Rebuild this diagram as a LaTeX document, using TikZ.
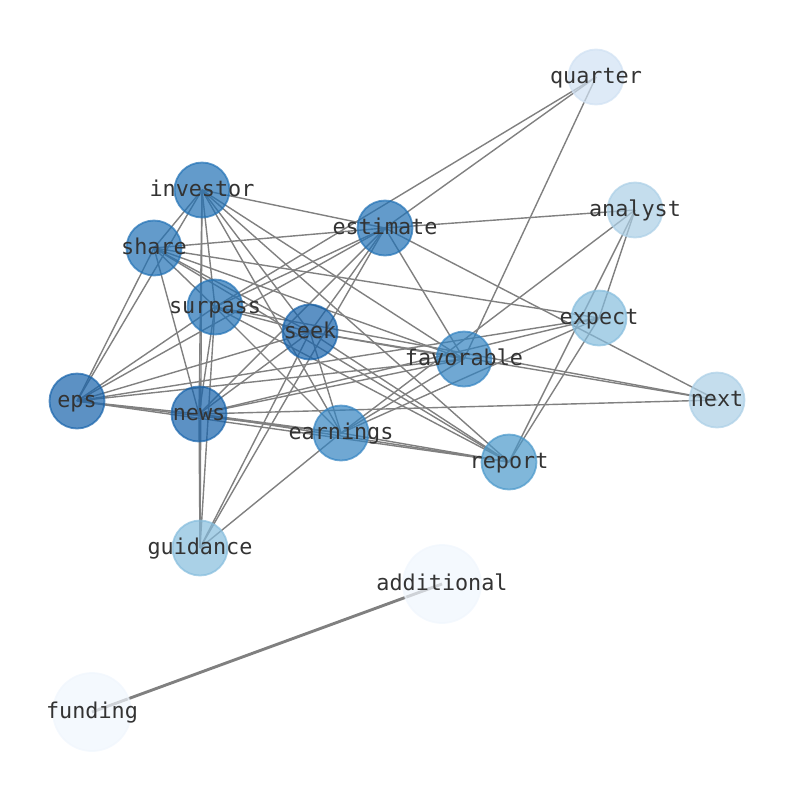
\documentclass[tikz,border=0pt]{standalone}
\usepackage{fontspec}
\setmonofont{DejaVu Sans Mono}
\pgfdeclarelayer{bg}
\pgfsetlayers{bg,main}
\definecolor{cA}{HTML}{1763AB}
\definecolor{cB}{HTML}{2171B5}
\definecolor{cC}{HTML}{3383C1}
\definecolor{cD}{HTML}{4A98CA}
\definecolor{cE}{HTML}{86BDDD}
\definecolor{cF}{HTML}{ABCFE6}
\definecolor{cG}{HTML}{D0E1F3}
\definecolor{cH}{HTML}{F0F6FD}
\definecolor{edgegray}{HTML}{808080}
\definecolor{labgray}{HTML}{333333}
\tikzset{
  wnode/.style={circle, minimum size=55, inner sep=0pt, line width=1.8, fill opacity=0.7, draw opacity=0.7},
  bignode/.style={wnode, minimum size=78},
  lab/.style={anchor=base, inner sep=0pt, text=labgray, font=\ttfamily\fontsize{21.8}{24}\selectfont},
  link/.style={draw=edgegray, line width=1.4},
  heavy/.style={draw=edgegray, line width=2.9}
}
\begin{document}
\begin{tikzpicture}[x=1pt,y=-1pt]
\useasboundingbox (0,0) rectangle (794,790);
% nodes
\node[wnode, fill=cG, draw=cG] (quarter) at (596,77) {};
\node[wnode, fill=cB, draw=cB] (investor) at (202,190) {};
\node[wnode, fill=cF, draw=cF] (analyst) at (635,210) {};
\node[wnode, fill=cB, draw=cB] (estimate) at (385,228) {};
\node[wnode, fill=cB, draw=cB] (share) at (154,248) {};
\node[wnode, fill=cB, draw=cB] (surpass) at (215,307) {};
\node[wnode, fill=cE, draw=cE] (expect) at (599,318) {};
\node[wnode, fill=cA, draw=cA] (seek) at (310,332) {};
\node[wnode, fill=cC, draw=cC] (favorable) at (464,359) {};
\node[wnode, fill=cA, draw=cA] (eps) at (77,401) {};
\node[wnode, fill=cF, draw=cF] (next) at (717,400) {};
\node[wnode, fill=cA, draw=cA] (news) at (199,414) {};
\node[wnode, fill=cC, draw=cC] (earnings) at (341,433) {};
\node[wnode, fill=cD, draw=cD] (report) at (509,462) {};
\node[wnode, fill=cE, draw=cE] (guidance) at (200,548) {};
\node[bignode, fill=cH, draw=cH] (additional) at (442,584) {};
\node[bignode, fill=cH, draw=cH] (funding) at (92,712) {};
% labels
\foreach \n/\t in {quarter/quarter, investor/investor, analyst/analyst, estimate/estimate,
  share/share, surpass/surpass, expect/expect, seek/seek, favorable/favorable, eps/eps,
  next/next, news/news, earnings/earnings, report/report, guidance/guidance,
  additional/additional, funding/funding}
  \node[lab] (\n-t) at ([yshift=-6.5pt]\n.center) {\t};
% edges
\begin{pgfonlayer}{bg}
\foreach \a/\b in {
  quarter/estimate, quarter/surpass, quarter/favorable,
  analyst/estimate, analyst/expect, analyst/report, analyst/earnings,
  investor/share, investor/eps, investor/estimate, investor/news, investor/guidance,
  investor/surpass, investor/seek, investor/earnings, investor/favorable, investor/report,
  share/eps, share/surpass, share/estimate, share/seek, share/expect, share/news,
  share/favorable, share/report,
  surpass/eps, surpass/seek, surpass/news, surpass/guidance, surpass/earnings,
  surpass/report, surpass/next, surpass/estimate,
  estimate/eps, estimate/news, estimate/seek, estimate/guidance, estimate/favorable,
  estimate/next,
  seek/eps, seek/news, seek/earnings, seek/guidance, seek/report, seek/favorable, seek/next,
  eps/expect, eps/favorable, eps/news, eps/earnings, eps/report,
  news/earnings, news/report, news/favorable, news/expect, news/next, news/guidance,
  earnings/report, earnings/favorable, earnings/expect, earnings/guidance,
  expect/report}
  \path[link] (\a.center) -- (\b.center);
\path[heavy] (funding.center) -- (additional.center);
\end{pgfonlayer}
\end{tikzpicture}
\end{document}
